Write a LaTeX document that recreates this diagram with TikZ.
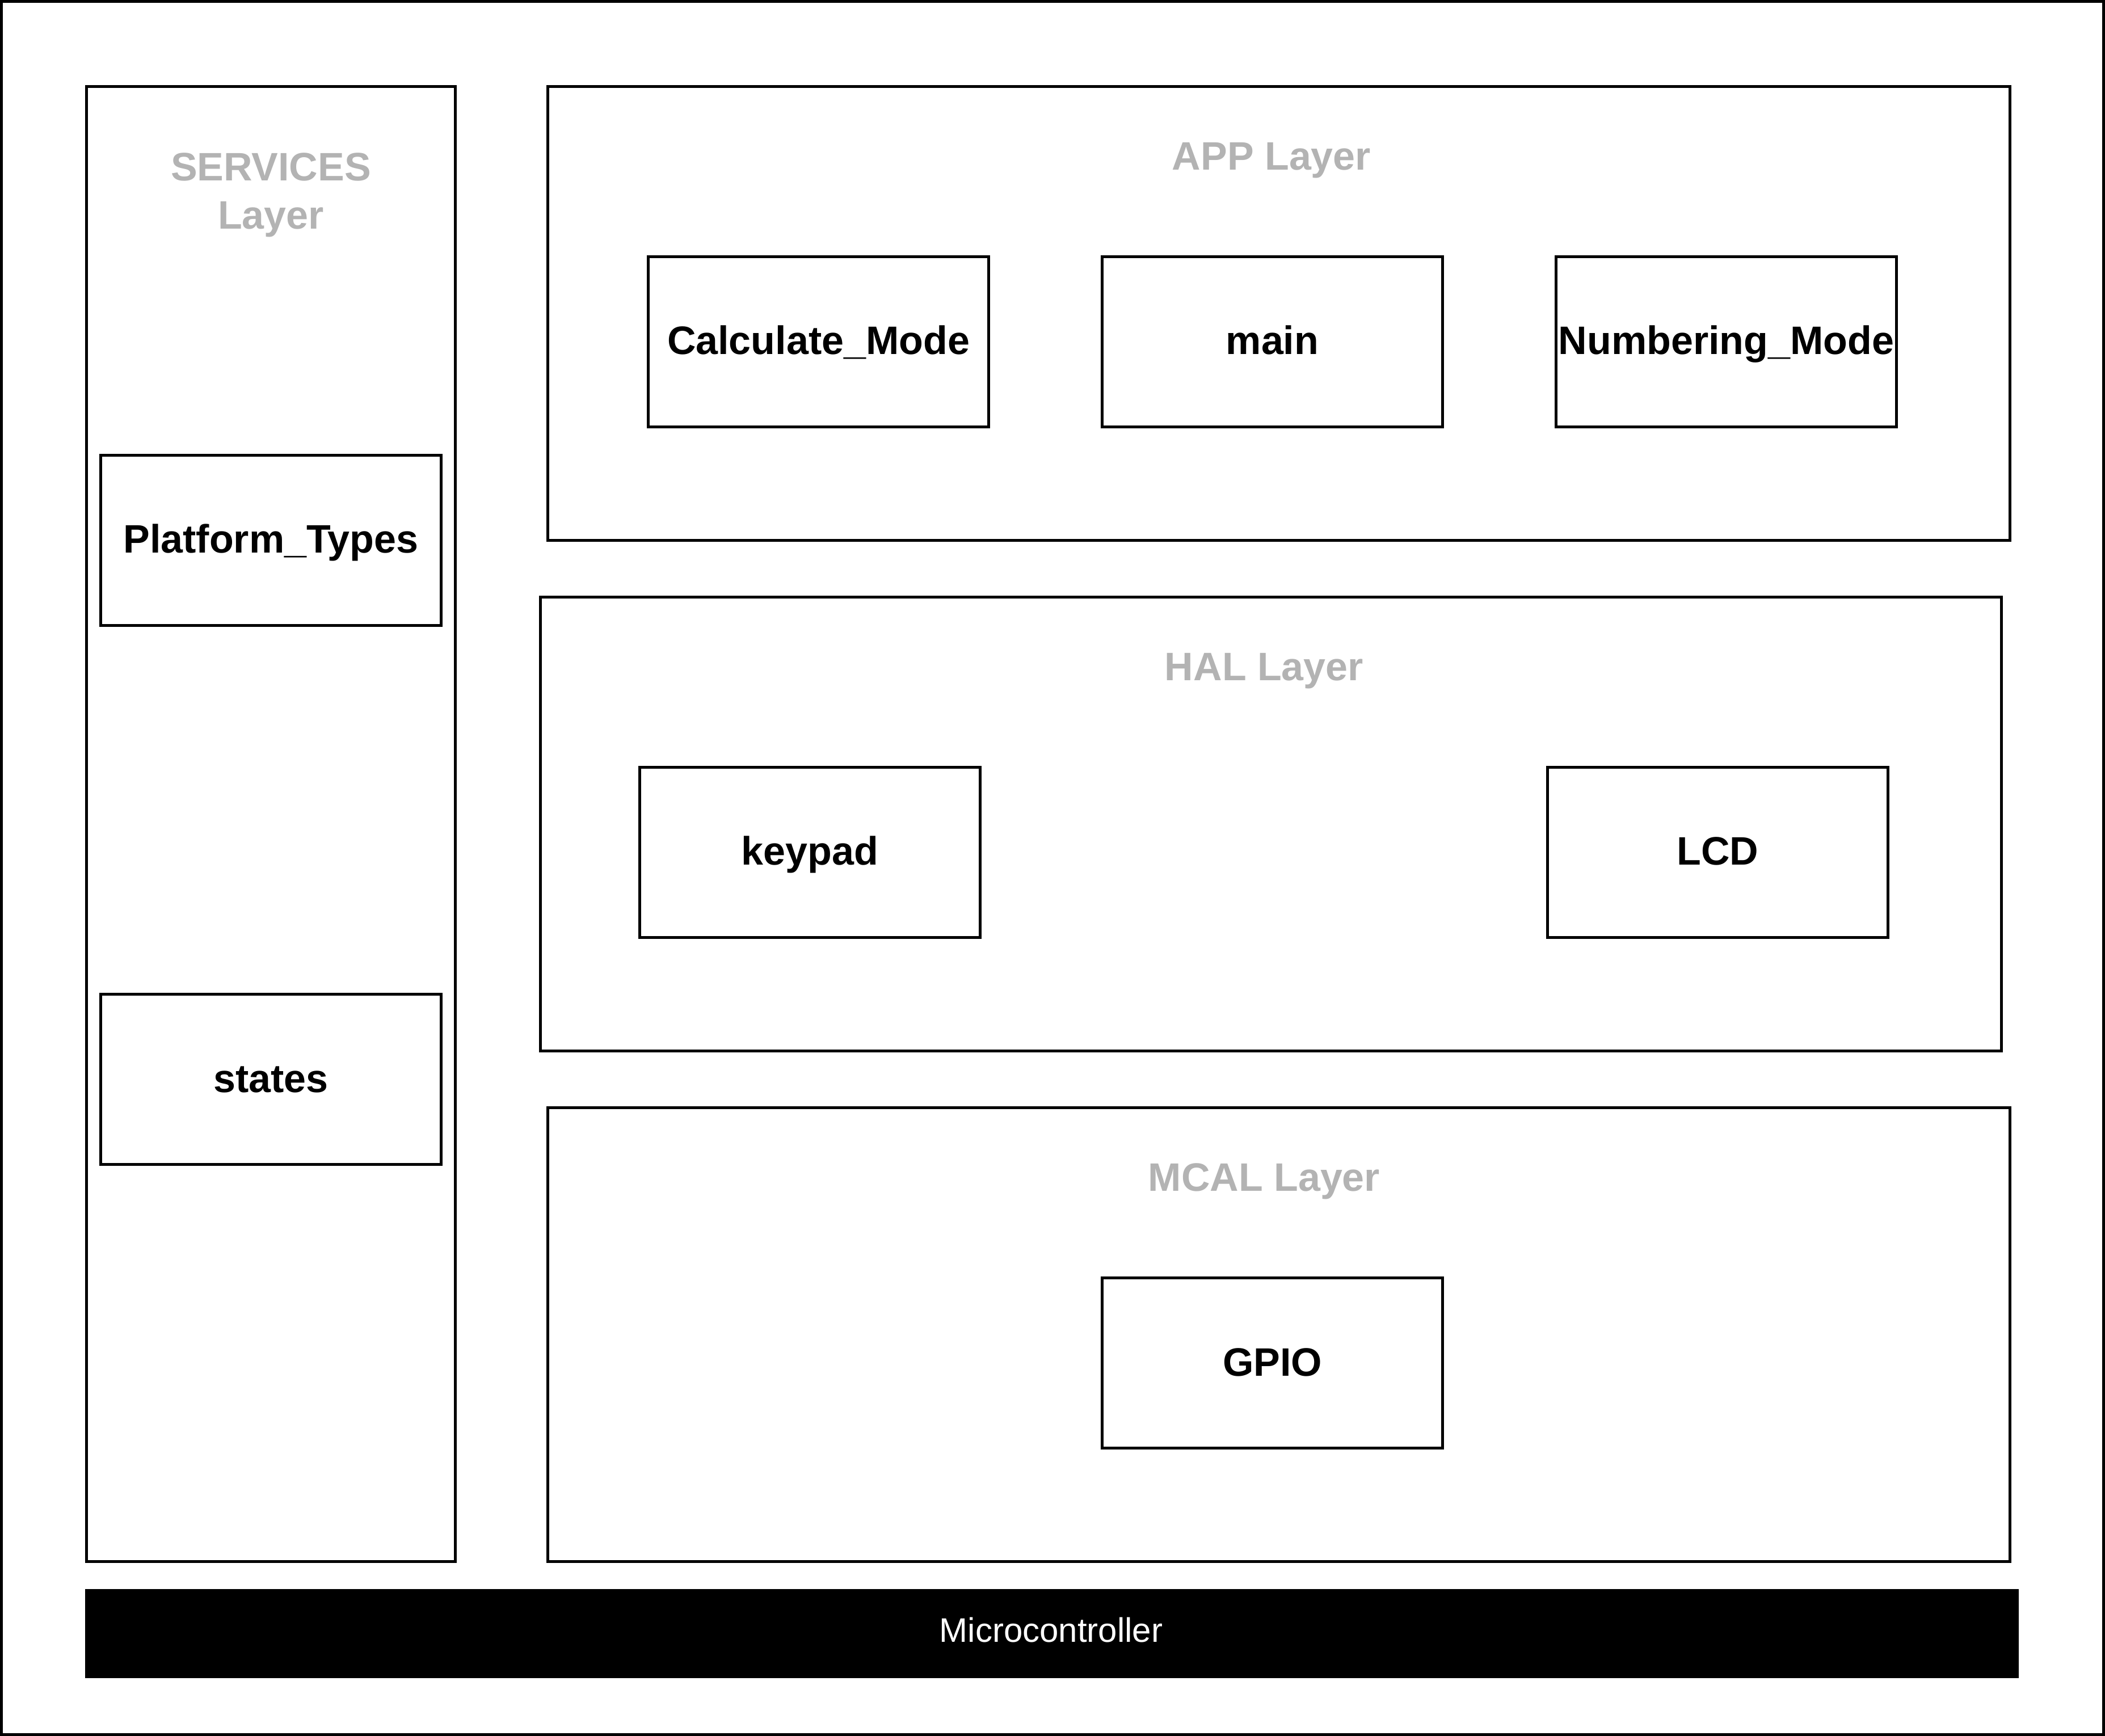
\documentclass[tikz,border=0pt]{standalone}
\usepackage{fontspec}
\setmainfont{Liberation Sans}
\definecolor{labelgray}{HTML}{B3B3B3}
\tikzset{
  frame/.style={draw=black, line width=1pt},
  modbox/.style={draw=black, line width=1pt, fill=white, minimum width=120pt, minimum height=60pt,
    inner sep=0pt, text height=9pt, text depth=0pt, font=\fontsize{14}{17}\selectfont\bfseries},
  layerlabel/.style={inner sep=0pt, anchor=base, text=labelgray, font=\fontsize{14}{17}\selectfont\bfseries},
}
\begin{document}
\begin{tikzpicture}[x=1pt, y=-1pt]
\useasboundingbox (0,0) rectangle (742,612);
% outer border
\draw[frame] (0.5,0.5) rectangle (741.5,611.5);
% containers
\draw[frame] (30.5,30.5) rectangle (160.5,550.5);
\draw[frame] (193,30.5) rectangle (708.5,190.5);
\draw[frame] (190.5,210.5) rectangle (705.5,370.5);
\draw[frame] (193,390.5) rectangle (708.5,550.5);
% container labels
\node[layerlabel, anchor=north, align=center] (svcl) at (95.5,53.8) {SERVICES\\Layer};
\node[layerlabel] (appl) at (448.2,60) {APP Layer};
\node[layerlabel] (hall) at (445.6,240) {HAL Layer};
\node[layerlabel] (mcall) at (445.6,420) {MCAL Layer};
% modules
\node[modbox] (calc) at (288.5,120.5) {Calculate\_Mode};
\node[modbox] (main) at (448.5,120.5) {main};
\node[modbox] (numb) at (608.5,120.5) {Numbering\_Mode};
\node[modbox] (plat) at (95.5,190.5) {Platform\_Types};
\node[modbox] (stat) at (95.5,380.5) {states};
\node[modbox] (keyp) at (285.5,300.5) {keypad};
\node[modbox] (lcd) at (605.5,300.5) {LCD};
\node[modbox] (gpio) at (448.5,480.5) {GPIO};
% microcontroller bar
\fill[black] (30,560.2) rectangle (711.6,591.6);
\node[inner sep=0pt, anchor=base, text=white, font=\fontsize{12}{14}\selectfont] (mcu) at (370.5,578.8) {Microcontroller};
\end{tikzpicture}
\end{document}
